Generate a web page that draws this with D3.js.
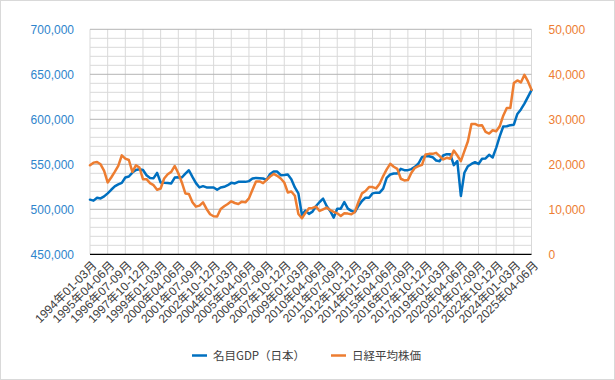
<!DOCTYPE html>
<html>
<head>
<meta charset="utf-8">
<script src="https://cdn.jsdelivr.net/npm/d3@7"></script>
<style>
  html, body { margin: 0; padding: 0; background: #fff; }
  svg { display: block; font-family: "Liberation Sans", Arial, "Noto Sans CJK JP", sans-serif; }
</style>
</head>
<body>
<svg id="chart" width="615" height="380"></svg>
<script>
// ---- data ----
const years = d3.range(1994, 2026);
const quarterNames = ["01-03", "04-06", "07-09", "10-12"];
const categories = [];
years.forEach(y => quarterNames.forEach(q => categories.push(y + "年" + q + "月")));
categories.splice(126); // 1994年01-03月 … 2025年04-06月

const gdp = [
  510700, 509600, 512900, 512100, 514300, 517700, 521700, 525400, 527600, 529400,
  535300, 536400, 540800, 543700, 544500, 543700, 537900, 534900, 534600, 540400,
  529800, 529400, 529100, 528700, 535300, 535700, 535300, 539700, 543400, 536000,
  529100, 524300, 525700, 524300, 524300, 524300, 521700, 524300, 525000, 526800,
  529400, 528700, 530500, 530500, 530500, 531300, 534200, 534900, 534600, 534200,
  532700, 539300, 541900, 541900, 537900, 538200, 538600, 533500, 524300, 517700,
  493800, 498500, 494900, 497400, 503700, 508100, 511800, 503700, 498200, 490800,
  500700, 500700, 508100, 500700, 498200, 497000, 503700, 509200, 512900, 512900,
  517700, 518500, 518500, 522900, 535000, 538700, 539800, 539800, 545000, 543500,
  543500, 544600, 547200, 550900, 557900, 559000, 559000, 557900, 554200, 553500,
  559800, 561300, 561300, 549100, 553500, 514800, 540600, 547900, 550400, 552400,
  550400, 556100, 556500, 560500, 557600, 568300, 581000, 592000, 592300, 593500,
  594000, 606000, 611000, 617500, 625000, 632500
];

const nikkei = [
  19780, 20370, 20500, 20000, 18530, 15960, 17060, 18310, 19630, 21980,
  21250, 20960, 18310, 19780, 19270, 16690, 16690, 15810, 15370, 14340,
  14630, 16840, 17800, 18310, 19630, 18020, 15960, 13530, 13390, 11550,
  10590, 10810, 11550, 10080, 8900, 8460, 8390, 10080, 10670, 11180,
  11770, 11400, 11180, 11700, 11550, 12430, 14340, 16180, 16180, 15810,
  16550, 17280, 17870, 17430, 16840, 15960, 13750, 13970, 13020, 8970,
  8020, 9200, 10220, 10300, 10590, 9630, 10000, 10370, 9850, 9410,
  9110, 8520, 9110, 9040, 8890, 9410, 11620, 13540, 14060, 14940,
  14940, 14650, 15680, 17380, 18860, 20110, 19450, 19000, 16790, 16420,
  16490, 18120, 19230, 19590, 19890, 22180, 22320, 22320, 22550, 21810,
  21070, 21440, 21220, 23060, 21960, 20700, 22920, 25130, 28970, 28970,
  28600, 28670, 27200, 26830, 27570, 27340, 28450, 30810, 32510, 32510,
  38040, 38630, 38190, 39890, 38410, 36570
];

const leftTicks = [450000, 500000, 550000, 600000, 650000, 700000];
const rightTicks = [0, 10000, 20000, 30000, 40000, 50000];
const seriesNames = ["名目GDP（日本）", "日経平均株価"];
const colors = ["#0070C0", "#ED7D31"];

// ---- layout ----
const W = 615, H = 380;
const plot = { left: 90, right: 531.5, top: 29.3, bottom: 254.3 };

const svg = d3.select("#chart");

svg.append("rect")
  .attr("x", 0.5).attr("y", 0.5).attr("width", W - 1).attr("height", H - 1)
  .attr("fill", "#fff").attr("stroke", "#d9d9d9");

const x = d3.scalePoint().domain(categories).range([plot.left, plot.right]);
const yL = d3.scaleLinear().domain([450000, 700000]).range([plot.bottom, plot.top]);
const yR = d3.scaleLinear().domain([0, 50000]).range([plot.bottom, plot.top]);

// minor horizontal gridlines
const minorVals = d3.range(450000, 700001, 10000);
svg.append("g")
  .selectAll("line").data(minorVals.filter(v => v % 50000 !== 0)).join("line")
  .attr("x1", plot.left).attr("x2", plot.right)
  .attr("y1", d => yL(d)).attr("y2", d => yL(d))
  .attr("stroke", "#d9d9d9").attr("stroke-width", 1);

// vertical gridlines every 5 categories
const labelCats = categories.filter((d, i) => i % 5 === 0);
svg.append("g")
  .selectAll("line").data(labelCats).join("line")
  .attr("x1", d => x(d)).attr("x2", d => x(d))
  .attr("y1", plot.top).attr("y2", plot.bottom)
  .attr("stroke", "#d9d9d9").attr("stroke-width", 1);

// major horizontal gridlines
svg.append("g")
  .selectAll("line").data(leftTicks.slice(1)).join("line")
  .attr("x1", plot.left).attr("x2", plot.right)
  .attr("y1", d => yL(d)).attr("y2", d => yL(d))
  .attr("stroke", "#b4b4b4").attr("stroke-width", 1);

// left axis labels
const gL = svg.append("g").attr("transform", `translate(${plot.left - 16},0)`)
  .call(d3.axisLeft(yL).tickValues(leftTicks).tickFormat(d3.format(",")).tickSize(0).tickPadding(0));
gL.select(".domain").remove();
gL.selectAll("text").attr("fill", "#2E84CC").style("font-size", "12px")
  .style("font-family", '"Liberation Sans", Arial, sans-serif');

// right axis labels
const gR = svg.append("g").attr("transform", `translate(${plot.right + 17},0)`)
  .call(d3.axisRight(yR).tickValues(rightTicks).tickFormat(d3.format(",")).tickSize(0).tickPadding(0));
gR.select(".domain").remove();
gR.selectAll("text").attr("fill", "#ED7D31").style("font-size", "12px")
  .style("font-family", '"Liberation Sans", Arial, sans-serif');

// bottom axis
const gB = svg.append("g").attr("transform", `translate(0,${plot.bottom})`)
  .call(d3.axisBottom(x).tickValues(labelCats).tickSize(0).tickPadding(0));
gB.select(".domain").attr("stroke", "#000").attr("stroke-width", 1.3)
  .attr("d", `M${plot.left},0H${plot.right}`);
gB.selectAll("text")
  .attr("fill", "#404040")
  .style("font-size", "12px")
  .style("font-family", '"Liberation Sans", Arial, "Noto Sans CJK JP", sans-serif')
  .attr("text-anchor", "end")
  .attr("dy", "0.35em")
  .attr("transform", "translate(4,9) rotate(-45)");

// lines
const lineL = d3.line().x((d, i) => x(categories[i])).y(d => yL(d));
const lineR = d3.line().x((d, i) => x(categories[i])).y(d => yR(d));

svg.append("path").datum(gdp).attr("d", lineL)
  .attr("fill", "none").attr("stroke", colors[0]).attr("stroke-width", 2.5)
  .attr("stroke-linejoin", "round").attr("stroke-linecap", "round");
svg.append("path").datum(nikkei).attr("d", lineR)
  .attr("fill", "none").attr("stroke", colors[1]).attr("stroke-width", 2.5)
  .attr("stroke-linejoin", "round").attr("stroke-linecap", "round");

// legend
const legendItems = [
  { name: seriesNames[0], color: colors[0], x: 192 },
  { name: seriesNames[1], color: colors[1], x: 331 }
];
const lg = svg.append("g");
legendItems.forEach(it => {
  lg.append("line").attr("x1", it.x).attr("x2", it.x + 15).attr("y1", 355.5).attr("y2", 355.5)
    .attr("stroke", it.color).attr("stroke-width", 2.5);
  lg.append("text").attr("x", it.x + 21).attr("y", 355.5).attr("dy", "0.35em")
    .attr("fill", "#404040").style("font-size", "11.5px")
    .style("font-family", '"Noto Sans CJK JP", sans-serif')
    .text(it.name);
});
</script>
</body>
</html>
